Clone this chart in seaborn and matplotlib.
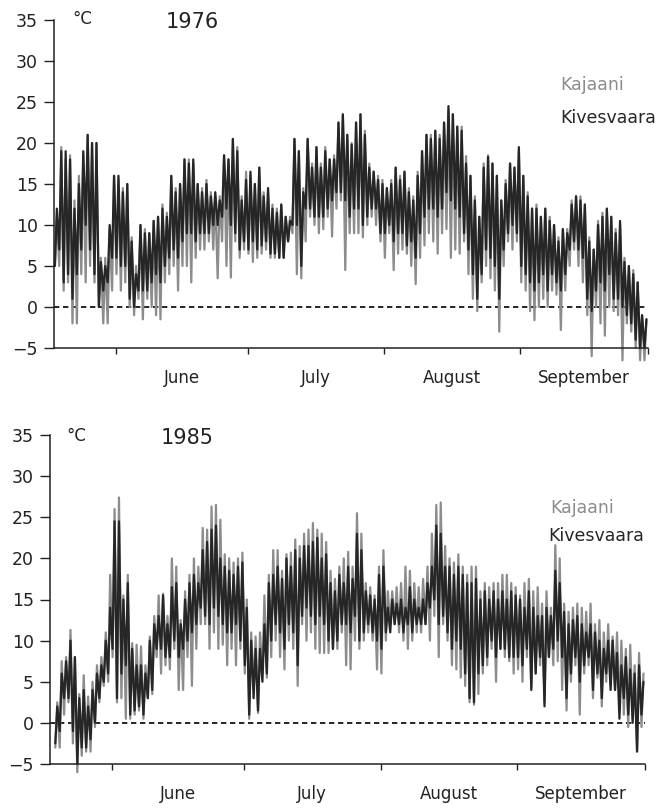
import numpy as np
import pandas as pd
import matplotlib
matplotlib.use("Agg")
import matplotlib.pyplot as plt
import seaborn as sns

nan = float("nan")

# Day 0 = 18 May. Month boundaries (days) and positions of the month names.
month_starts = [14, 44, 75, 106, 135]
month_mid = [29, 59.5, 90.5, 120.5]
month_names = ["June", "July", "August", "September"]
y_ticks = [-5, 0, 5, 10, 15, 20, 25, 30, 35]

# 1976 daily extremes (deg C)
kiv76_max = [12, 19, 19, 18, 12, 15, 19, 21, 20, 20,
             5.5, 5, 10, 16, 16, 14, 15, 8, 4, 10,
             9, 9, 10.5, 11, 12, 11, 16, 14, 15, 18,
             17.5, 18, 15, 14, 15, 13.5, 14, 13, 18.5, 18,
             20.5, 19, 13, 15.5, 16.5, 15, 17, 13.5, 14.5, 12,
             11.5, 12.5, 11, 10.5, 20.5, 19, 14, 20.5, 17, 19.5,
             17, 19, 18, 18, 22.5, 23.5, 21, 19.8, 22.5, 23.5,
             21, 17, 16.5, 15.5, 15, 14.5, 15, 17, 15.5, 16.5,
             14, 13, 16, 19, 21, 20.5, 21.5, 20.5, 22.5, 24.5,
             23.5, 22, 21.5, 17.5, 16, 13, 11, 17, 18.3, 17.5,
             16, 13, 15, 17.5, 17, 19.5, 16, 13.5, 12, 12,
             11, 12, 10.5, 10, 8, 9.5, 9, 12.5, 13.5, 13,
             12.5, 8, 7, 10, 11, 12, 11, 9, 10.5, 5.5,
             5, 4, 3, -1, -1.5]
kiv76_min = [5, 7, 3, 4, 1, 4, 7, 10, 7, 4,
             0, 2, 3, 6, 6, 5, 5, 1, 0, 2,
             2, 2, 3, 4, 3, 5, 6, 7, 6, 8,
             9, 9, 8, 9, 9, 9, 10, 10, 11, 12,
             10, 9, 7, 8, 7, 8, 7, 7.5, 8, 6.5,
             6.5, 6, 6, 8, 10, 10, 5, 12, 12, 11,
             11, 11, 12, 13, 14, 14, 13, 11, 12, 12,
             10, 11, 12, 12, 9, 9, 10, 8, 9, 9,
             7.5, 8, 6, 9, 11, 12, 12, 11, 12, 14,
             13, 12, 11, 9, 7, 4, 1, 4, 7, 6,
             5, 1, 7, 9, 10, 9, 5, 4, 3, 2,
             3, 4, 2, 4, 3, 2, 4, 7, 8, 7,
             6, 1, -0.5, 2, 3, 2, 4, 1, 1, 0,
             -1, -2, -4, -5, -5]
kaj76_max = [11, 19.5, 18, 18.5, 13, 16, 18.5, 21, 20, 20,
             6, 6, 9.5, 16, 15.5, 14.5, 15, 8.5, 5, 10,
             9.5, 9, 10.5, 11, 12.5, 11.5, 16, 14.5, 15, 18,
             18, 17.5, 15, 14.5, 15.5, 14, 13.5, 13.5, 18.5, 18,
             20.5, 19.5, 13.5, 16.5, 16, 15, 17, 14, 14, 12.5,
             12, 12.5, 11, 11, 20.5, 19, 14.5, 20.5, 17.5, 19.5,
             17.5, 19.5, 18, 18.5, 22.5, 23.5, 21, 20, 22.5, 23.5,
             21.5, 17.5, 16.5, 16, 15.5, 14.5, 15.5, 17, 16, 16.5,
             14.5, 13.5, 16.5, 19, 21, 21, 21.5, 21, 22.5, 24,
             23.5, 22, 22, 18.4, 16, 13.5, 11, 17.5, 18.5, 17.5,
             16, 13, 15.5, 17.5, 17, 19, 16, 14, 12, 12.5,
             11, 12, 11, 10, 8.5, 9.5, 9.5, 13, 13.5, 13.5,
             12.5, 8.5, 7, 10.5, 11.5, 12, 11, 9.5, 10, 6,
             5, 4.5, 3, -1, -1.5]
kaj76_min = [5, 5, 2, 3, -2, -2, 4, 3, 5, 3,
             0, -2, -2, 2, 4, 2, 3, 0, -1, 1,
             -1.5, 1, 0, -1, -1.5, 3, 4, 5, 2, 5,
             5, 3, 6, 7, 7, 8, 7, 3.5, 8, 5,
             3.6, 8, 6, 7, 6.5, 5.5, 6, 6.5, 7, 6,
             6, 6, 6, 8, 9, 4, 3.5, 8, 11, 10,
             9, 9.5, 11, 8.6, 12, 13, 4.5, 9, 9, 9,
             8.5, 10, 11, 10, 8, 6, 9, 4.5, 6.5, 7,
             6.5, 5, 2.8, 6, 7.5, 9, 8, 6.5, 9, 9.5,
             6, 7, 6.5, 8, 4, 1, -0.5, 3, 5, 3.5,
             2, -3, 5, 8, 7, 8, 3, 2, -0.5, -1.6,
             0, 1, 0, 2, 1.5, -2.8, 2, 5, 7, 5,
             3, -1, -6, 0, -2, -3.5, 0, -0.5, -1, -6.5,
             -2, -3, -5, -6.5, -6.5]

# 1985 daily extremes (deg C); records start on 19 May
kiv85_max = [nan, 2, 6, 7.5, 10, 8, 3, 4, 2, 4,
             6, 7, 10, 14, 24.5, 24.5, 15, 17, 9, 7,
             7, 6, 10, 12, 13, 15.5, 12, 16.5, 17, 12,
             15, 17, 18, 17, 21, 22, 23.5, 24, 20, 19,
             18.5, 18, 19, 19.5, 14, 10, 9, 9, 12, 17,
             18, 19, 17.5, 20, 19, 21, 20, 21.5, 21.5, 22,
             22.5, 20, 20.5, 17, 16, 18, 17, 19, 17.5, 23,
             21, 16, 15.5, 15, 18, 19, 14, 15, 14.5, 15,
             14, 16.5, 15, 14, 15, 17, 19, 24, 23, 19,
             19, 18, 19, 18, 17, 17, 17.5, 15, 16, 15,
             16, 15, 16, 15, 16, 15.5, 15, 14, 16, 14,
             13, 13, 14, 13, 18.5, 17, 13.5, 12, 12.5, 13,
             12, 11, 12, 11, 10, 9, 10, 10, 8.5, 7,
             8, 6.5, 6, 7, 5]
kiv85_min = [nan, -2.5, -1, 3, 3, -1, -5, -3, -3, -2,
             0, 3, 5, 6, 9, 3, 6, 7, 1, 1.5,
             2, 1, 3, 4, 9, 9, 8, 8, 10, 8,
             9, 10, 11, 12, 14, 13, 12, 14, 13, 12,
             11, 11, 12, 10, 7, 1, 3, 1.5, 5, 6,
             10, 12, 11, 9, 12, 11, 7, 13, 14, 13,
             12, 13, 12, 10, 9, 10, 12, 12, 11, 13,
             10, 11, 12, 11, 10, 9, 11, 11, 12, 12,
             11, 12, 11, 12, 12, 12, 14, 15, 12, 13,
             11, 9, 10, 9, 6, 3, 2.5, 6, 7, 8,
             10, 8, 9, 9, 8, 8, 8, 7, 9, 4,
             6, 8, 2, 8, 9, 10, 8, 3, 6, 8,
             5, 7, 8, 4, 6, 3, 6, 4, 4, 0.5,
             3, 1, 0, -3.5, 1]
kaj85_max = [nan, 2.5, 7.5, 8, 11.3, 8, 3.5, 5.8, 3.2, 5,
             7, 8, 11, 18, 26, 27.4, 15.5, 18, 9.7, 9.5,
             9.3, 7, 10.5, 13, 15.5, 15.7, 13, 20, 19, 12.5,
             16, 18, 20, 19, 23.7, 23.5, 26.3, 26.5, 24.7, 20.5,
             20, 19.5, 20, 20.7, 15, 11, 10.5, 11, 15.5, 18,
             21, 21, 18.5, 20.5, 20.7, 22.3, 21.5, 23, 23.5, 24.3,
             23.5, 23, 22, 18.5, 17.5, 19, 20, 20.8, 19, 25.5,
             23, 17, 16.5, 15.5, 19, 21, 16, 16, 16.5, 17,
             19, 18.5, 17, 16.5, 17.5, 19, 23, 26.5, 26.8, 21.5,
             20, 19.5, 20.5, 19, 18, 19, 19, 16, 17, 16.5,
             17, 17, 18, 18, 17, 16.5, 15.5, 17, 17.5, 16,
             16.5, 14.5, 16, 14, 21.6, 20, 14.5, 13.5, 14, 14.5,
             14, 13.5, 14.5, 12, 12.5, 11, 12, 10.5, 11, 10,
             9, 9.5, 7, 8.5, 6]
kaj85_min = [nan, -3, -3, 1, 2.5, -2.5, -6, -4, -3.5, -3.5,
             -0.5, 2.5, 4.5, 5, 8, 2.5, 3, 0.5, 0.5, 1,
             1.5, 0.5, 3, 3.5, 8, 6, 7, 6.5, 9, 4,
             4, 8, 4.5, 9, 12, 12, 9, 11, 9, 9.5,
             7, 9, 7, 9, 6, 0.5, 4, 1.2, 6, 5.5,
             8, 10, 8, 6.5, 10, 9, 4.5, 12, 10, 11,
             9, 8.5, 8.5, 8.5, 9, 9, 11, 7, 6.5, 10,
             9, 10, 11, 10, 6.5, 6, 10, 12, 12, 11,
             10, 9, 10, 11, 11, 12, 10, 13, 8, 12,
             10, 7, 6.5, 5.5, 4.5, 2.5, 2.2, 3.5, 6, 7,
             9, 5, 9, 8, 7.5, 6, 6.5, 5, 8, 4.3,
             6, 7, 2.5, 8, 7, 7.5, 4, 1.5, 5, 7,
             1, 6, 7, 3, 5.5, 2, 5, 4.5, 4, 1.5,
             1, -0.5, 0.5, -3.4, -0.5]

GREY = "#8c8c8c"
DARK = "#262626"
W, H = 657, 809

sns.set_style("ticks")
plt.rcParams["font.family"] = ["DejaVu Sans"]


def daily_trace(tmin, tmax, station):
    """Alternate night minimum and afternoon maximum for each day."""
    days = np.arange(len(tmin), dtype=float)
    t = np.column_stack([days + 0.2, days + 0.65]).ravel()
    v = np.column_stack([np.asarray(tmin, float), np.asarray(tmax, float)]).ravel()
    return pd.DataFrame({"day": t, "temp": v, "station": station})


def panel(rect, kaj_min, kaj_max, kiv_min, kiv_max):
    ax = fig.add_axes(rect)
    df = pd.concat([daily_trace(kaj_min, kaj_max, "Kajaani"),
                    daily_trace(kiv_min, kiv_max, "Kivesvaara")],
                   ignore_index=True).dropna()
    ax.axhline(0, color="black", lw=1.2, ls=(0, (3.2, 2.2)), zorder=1)
    sns.lineplot(data=df, x="day", y="temp", hue="station",
                 hue_order=["Kajaani", "Kivesvaara"],
                 palette={"Kajaani": GREY, "Kivesvaara": DARK},
                 estimator=None, sort=False, legend=False,
                 lw=1.6, ax=ax, zorder=2)
    # cold spikes below -5 run past the bottom axis line
    for line in ax.lines[1:]:
        line.set_clip_on(False)
    ax.set_xlim(0, 135)
    ax.set_ylim(-5, 35)
    ax.set_xlabel("")
    ax.set_ylabel("")
    ax.set_yticks(y_ticks)
    ax.set_yticklabels([f"{v}".replace("-", "\u2212") for v in y_ticks])
    ax.set_xticks(month_starts)
    ax.set_xticklabels([])
    ax.set_xticks(month_mid, minor=True)
    ax.set_xticklabels(month_names, minor=True)
    ax.tick_params(axis="y", direction="out", length=7, width=1.0,
                   labelsize=12.5, pad=4.5, colors="#222222")
    ax.tick_params(axis="x", which="major", direction="out", length=4,
                   width=1.0, colors="#222222")
    ax.tick_params(axis="x", which="minor", length=0, pad=15,
                   labelsize=12, colors="#222222")
    for side in ("top", "right"):
        ax.spines[side].set_visible(False)
    for side in ("left", "bottom"):
        ax.spines[side].set_linewidth(1.1)
        ax.spines[side].set_color("#222222")
    ax.set_facecolor("white")
    return ax


def ftext(x, y, s, **kw):
    fig.text(x / W, 1 - y / H, s, **kw)


fig = plt.figure(figsize=(6.57, 8.09), dpi=100)
fig.patch.set_facecolor("white")

panel([54 / W, 1 - 348 / H, 594 / W, 328 / H],
      kaj76_min, kaj76_max, kiv76_min, kiv76_max)
panel([50 / W, 1 - 764 / H, 595 / W, 329 / H],
      kaj85_min, kaj85_max, kiv85_min, kiv85_max)

# 1976 annotations
ftext(82, 19, "°C", ha="center", va="center", fontsize=12, color="#222222")
ftext(192, 22, "1976", ha="center", va="center", fontsize=15, color="#222222")
ftext(560, 85, "Kajaani", ha="left", va="center", fontsize=12.5, color=GREY)
ftext(560, 118, "Kivesvaara", ha="left", va="center", fontsize=12.5, color=DARK)

# 1985 annotations
ftext(76, 436, "°C", ha="center", va="center", fontsize=12, color="#222222")
ftext(187, 438, "1985", ha="center", va="center", fontsize=15, color="#222222")
ftext(550, 508, "Kajaani", ha="left", va="center", fontsize=12.5, color=GREY)
ftext(548, 536, "Kivesvaara", ha="left", va="center", fontsize=12.5, color=DARK)

fig.savefig("out.png", dpi=100, facecolor="white")
